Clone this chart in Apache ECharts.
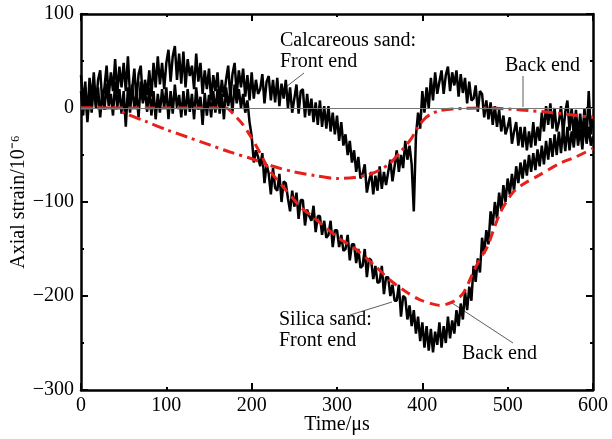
<!DOCTYPE html>
<html><head><meta charset="utf-8">
<script src="https://cdn.jsdelivr.net/npm/echarts/dist/echarts.min.js"></script>
<style>html,body{margin:0;padding:0;background:#fff}#c{width:612px;height:439px}</style>
</head><body><div id="c"></div><script>
// Time axis of the measured curves (µs)
const time = [0,2.5,5,7.5,10,12.5,15,17.5,20,22.5,25,27.5,30,32.5,35,37.5,40,42.5,45,47.5,
50,52.5,55,57.5,60,62.5,65,67.5,70,72.5,75,77.5,80,82.5,85,87.5,90,92.5,95,97.5,
100,102.5,105,107.5,110,112.5,115,117.5,120,122.5,125,127.5,130,132.5,135,137.5,140,142.5,145,147.5,
150,152.5,155,157.5,160,162.5,165,167.5,170,172.5,175,177.5,180,182.5,185,187.5,190,192.5,195,197.5,
200,202.5,205,207.5,210,212.5,215,217.5,220,222.5,225,227.5,230,232.5,235,237.5,240,242.5,245,247.5,
250,252.5,255,257.5,260,262.5,265,267.5,270,272.5,275,277.5,280,282.5,285,287.5,290,292.5,295,297.5,
300,302.5,305,307.5,310,312.5,315,317.5,320,322.5,325,327.5,330,332.5,335,337.5,340,342.5,345,347.5,
350,352.5,355,357.5,360,362.5,365,367.5,370,372.5,375,377.5,380,382.5,385,387.5,390,392.5,395,397.5,
400,402.5,405,407.5,410,412.5,415,417.5,420,422.5,425,427.5,430,432.5,435,437.5,440,442.5,445,447.5,
450,452.5,455,457.5,460,462.5,465,467.5,470,472.5,475,477.5,480,482.5,485,487.5,490,492.5,495,497.5,
500,502.5,505,507.5,510,512.5,515,517.5,520,522.5,525,527.5,530,532.5,535,537.5,540,542.5,545,547.5,
550,552.5,555,557.5,560,562.5,565,567.5,570,572.5,575,577.5,580,582.5,585,587.5,590,592.5,595,597.5,600];
// Calcareous sand measured strain (10^-6)
const calcMeasured = [35,5,28,-12, 32,8,38,2, 30,40,6,22, 45,12,38,18, 52,15,44,22,
48,18,55,12, 20,42,8,36, 45,8,30,14, 40,12,48,22, 55,25,48,20,
48,62,28,55, 66,30,58,26, 60,22,52,34, 45,20,58,28, 48,15,40,20,
42,8,35,18, 38,5,30,12, 30,45,10,36, 48,15,40,22, 42,12,35,8,
38,10,30,15, 20,36,5,28, 34,8,30,6, 32,2,26,10, 30,0,22,-5,
10,25,-6,18, 20,-10,15,-8, 10,-15,6,-18, 8,-20,2,-22, 2,-25,-5,-28,
-8,-35,-15,-40, -28,-50,-35,-58, -45,-68,-52,-75, -70,-60,-90,-78, -68,-92,-72,-88,
-62,-86,-68,-82, -68,-55,-78,-62, -45,-68,-50,-64, -35,-55,-40,-60, -110,-30,-5,-22,
18,-5,22,0, 32,8,38,15, 28,40,15,35, 44,18,38,24, 40,12,36,16,
32,5,28,8, 10,24,-4,18, 15,-10,8,-12, 6,-18,2,-20, -2,-25,-8,-28,
-20,-10,-38,-25, -15,-40,-20,-42, -20,-45,-25,-42, -15,-40,-20,-35, -5,-25,2,-18,
5,-22,0,-25, -15,2,-28,-4, 8,-24,0,-30, -2,-30,-6,-32, 0,-34,18,-28, -8];
// Silica sand measured strain (10^-6)
const silicaMeasured = [18,-8,22,-15, 15,-5,25,0, 22,-10,18,-2, 26,2,15,-8, 28,0,20,-6,
18,-20,22,-5, 25,0,15,-10, 28,5,20,-4, 22,-8,18,-12, 15,-5,20,0,
22,-12,18,-6, 25,0,14,-10, 18,-8,20,-4, 15,-12,22,-2, 12,-18,16,-8,
14,-10,18,-5, 20,-6,15,-12, 22,2,18,-4, 25,5,20,0, 15,-5,8,-15,
-30,-58,-45,-52, -62,-48,-80,-60, -70,-92,-64,-85, -88,-70,-100,-78, -80,-96,-110,-88,
-105,-90,-118,-98, -98,-125,-108,-115, -120,-104,-132,-115, -115,-135,-120,-138, -135,-120,-148,-130,
-130,-148,-135,-152, -150,-135,-162,-145, -145,-165,-150,-170, -168,-150,-180,-160, -162,-182,-168,-186,
-185,-168,-198,-180, -180,-200,-188,-205, -205,-188,-222,-200, -202,-225,-210,-232, -215,-240,-222,-248,
-228,-255,-232,-258, -235,-260,-238,-252, -228,-255,-232,-250, -222,-245,-226,-240, -215,-232,-208,-225,
-195,-215,-190,-205, -168,-185,-160,-175, -138,-155,-130,-145, -110,-125,-100,-118, -90,-108,-82,-100,
-75,-92,-70,-88, -62,-80,-58,-75, -55,-72,-50,-68, -48,-66,-44,-62, -40,-60,-35,-55,
-32,-52,-28,-50, -25,-48,-22,-46, -20,-45,-25,-42, -18,-40,-22,-44, -15,-38,-20,-40, -30];
// Simulated silica sand (red dashed)
const simSilicaT = [0,160,170,180,190,200,210,220,237,257,272,300,323,347,362,380,397,410,421,436,448,459,468,476,491,506,520,534,561,580,600];
const simSilicaV = [0,0,0,-8,-18,-32,-48,-65,-84,-105,-116,-137,-151,-170,-183,-195,-204,-208,-210,-206,-197,-176,-160,-148,-112,-90,-80,-73,-59,-52,-43];
// Simulated calcareous sand (red dash-dot)
const simCalcT = [0,40,50,75,100,125,150,175,200,225,250,275,300,320,340,350,362,375,386,394,401,409,420,436,476,515,553,600];
const simCalcV = [0,0,-5,-14,-23,-31,-39,-47,-54,-62,-68,-72,-75,-74,-70,-66,-59,-46,-34,-22,-13,-7,-3,-1,0,-2,-5,-10];
const xTicks = [0,100,200,300,400,500,600];
const yTicks = [-300,-200,-100,0,100];

const FONT = '"Liberation Serif","Times New Roman",serif';
const RED = '#e8201c';
const pairs = (xs, ys) => xs.map((x, i) => [x, ys[i]]);
const minus = v => String(v).replace('-', '\u2212');

const chart = echarts.init(document.getElementById('c'), null, {renderer: 'canvas'});
const frameTick = (pos, show) => ({
  type: 'value', min: xTicks[0], max: xTicks[xTicks.length - 1], interval: 200, position: pos,
  axisLine: {show: show, onZero: false, lineStyle: {color: '#000', width: 2.5}},
  axisTick: {show: true, inside: true, length: 7, lineStyle: {color: '#000', width: 2}},
  minorTick: {show: true, splitNumber: 2, length: 3, lineStyle: {color: '#000', width: 2}},
  axisLabel: {show: false}, splitLine: {show: false}, minorSplitLine: {show: false}
});
const yAx = (pos, labels) => ({
  type: 'value', min: yTicks[0], max: yTicks[yTicks.length - 1], interval: 100, position: pos,
  axisLine: {show: true, onZero: false, lineStyle: {color: '#000', width: 2.5}},
  axisTick: {show: true, inside: true, length: 7, lineStyle: {color: '#000', width: 2}},
  minorTick: {show: true, splitNumber: 2, length: 3, lineStyle: {color: '#000', width: 2}},
  axisLabel: {show: labels, color: '#000', fontFamily: FONT, fontSize: 20, margin: 7, formatter: minus},
  splitLine: {show: false}, minorSplitLine: {show: false}
});
const y0 = yAx('left', true);
y0.name = 'Axial strain/10\u207B\u2076';
y0.nameLocation = 'middle';
y0.nameGap = 52;
y0.nameMoveOverlap = false;
y0.nameRotate = 90;
y0.nameTextStyle = {color: '#000', fontFamily: FONT, fontSize: 20};

const txt = (x, y, s) => ({type: 'text', x: x, y: y, style: {text: s, fill: '#000', font: '20px ' + FONT, textAlign: 'left', textVerticalAlign: 'middle'}});
const ln = (x1, y1, x2, y2) => ({type: 'line', shape: {x1: x1, y1: y1, x2: x2, y2: y2}, style: {stroke: '#333', lineWidth: 0.8}});

chart.setOption({
  animation: false,
  backgroundColor: '#fff',
  grid: {left: 81, right: 19, top: 14, bottom: 49, containLabel: false, outerBoundsMode: 'none'},
  xAxis: [
    {type: 'value', min: 0, max: 600, interval: 100, position: 'bottom',
     axisLine: {show: true, onZero: false, lineStyle: {color: '#000', width: 2.5}},
     axisTick: {show: false}, splitLine: {show: false},
     axisLabel: {color: '#000', fontFamily: FONT, fontSize: 20, margin: 6},
     name: 'Time/\u03BCs', nameLocation: 'middle', nameGap: 25, nameMoveOverlap: false,
     nameTextStyle: {color: '#000', fontFamily: FONT, fontSize: 20}},
    frameTick('bottom', false),
    frameTick('top', true)
  ],
  yAxis: [y0, yAx('right', false)],
  series: [
    {type: 'line', data: pairs(time, calcMeasured), showSymbol: false, symbol: 'none',
     lineStyle: {color: '#000', width: 2.5}, z: 2,
     markLine: {silent: true, symbol: 'none', label: {show: false},
       lineStyle: {color: '#777', width: 1, type: 'solid'}, data: [{yAxis: 0}]}},
    {type: 'line', data: pairs(time, silicaMeasured), showSymbol: false, symbol: 'none',
     lineStyle: {color: '#000', width: 2.5}, z: 2},
    {type: 'line', data: pairs(simSilicaT, simSilicaV), showSymbol: false, symbol: 'none', smooth: 0.3,
     lineStyle: {color: RED, width: 3, type: [10, 6]}, z: 3},
    {type: 'line', data: pairs(simCalcT, simCalcV), showSymbol: false, symbol: 'none', smooth: 0.3,
     lineStyle: {color: RED, width: 3, type: [12, 5, 3, 5]}, z: 3}
  ],
  graphic: [
    txt(280, 41, 'Calcareous sand:'), txt(280, 62, 'Front end'),
    txt(505, 66, 'Back end'),
    txt(279, 320, 'Silica sand:'), txt(279, 341, 'Front end'),
    txt(462, 354, 'Back end'),
    ln(282, 90, 304, 73), ln(523, 76, 523, 107), ln(350, 315, 392, 302), ln(452, 303, 513, 343)
  ]
});
</script></body></html>
